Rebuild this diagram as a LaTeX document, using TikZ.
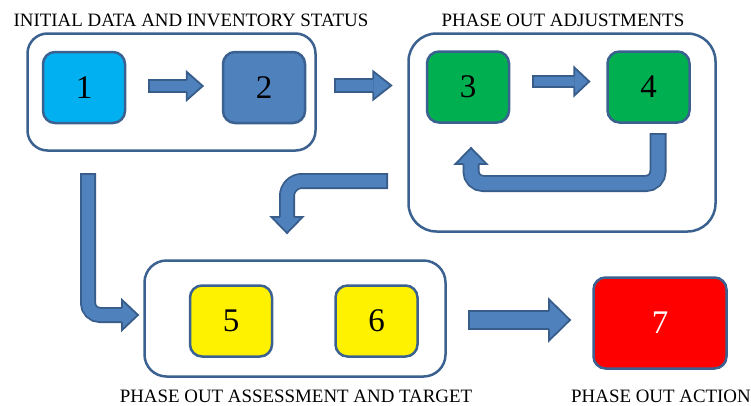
\documentclass[tikz,border=0pt]{standalone}
\usepackage{fontspec}
\setmainfont{Liberation Serif}
\usetikzlibrary{calc}

\definecolor{boxline}{HTML}{3A6190}
\definecolor{arrowfill}{HTML}{4F81BD}
\definecolor{arrowline}{HTML}{385D8A}
\definecolor{cyanbox}{HTML}{00B0F0}
\definecolor{bluebox}{HTML}{4F81BD}
\definecolor{greenbox}{HTML}{00B050}

% arrow head: half shaft, half head, length
\tikzset{
  pics/ahead/.style n args={3}{code={
    \filldraw[arrowbody] (0,#1) -- (0,#2) -- (#3,0) -- (0,-#2) -- (0,-#1);
  }}
}

\begin{document}
\begin{tikzpicture}[x=1pt,y=-1pt,
  numbox/.style={draw=boxline, line width=2.5pt, rounded corners=12pt,
    minimum width=82pt, minimum height=71pt, inner sep=0pt,
    font=\fontsize{33}{33}\selectfont},
  groupbox/.style={draw=boxline, line width=2.5pt, inner sep=0pt},
  shaft/.style={draw=arrowline, line width=1.8pt, double=arrowfill, double distance=#1pt,
    line cap=rect, shorten <=#1pt/2+1.8pt, shorten >=#1pt/2},
  arrowbody/.style={fill=arrowfill, draw=arrowline, line width=1.8pt, line join=miter},
  title/.style={font=\fontsize{18.9}{20}\selectfont, inner sep=0pt}]

\fill[white] (0,0) rectangle (751,405);
\useasboundingbox (0,0) rectangle (751,405);

% Groups
\node[groupbox, rounded corners=20pt, minimum width=288pt, minimum height=117pt] (g1) at (171.5,92) {};
\node[groupbox, rounded corners=28pt, minimum width=307pt, minimum height=198pt] (g2) at (562,132.5) {};
\node[groupbox, rounded corners=22pt, minimum width=301pt, minimum height=116pt] (g3) at (295,318.5) {};

% Titles
\node[title] (t1) at (191,20) {INITIAL DATA AND INVENTORY STATUS};
\node[title] (t2) at (563,20) {PHASE OUT ADJUSTMENTS};
\node[title] (t3) at (296,396) {PHASE OUT ASSESSMENT AND TARGET};
\node[title] (t4) at (661,396) {PHASE OUT ACTION};

% Steps
\node[numbox, fill=cyanbox] (b1) at (84,87.5) {1};
\node[numbox, fill=bluebox] (b2) at (264,87.5) {2};
\node[numbox, fill=greenbox] (b3) at (468,87) {3};
\node[numbox, fill=greenbox] (b4) at (648.5,87) {4};
\node[numbox, fill=yellow] (b5) at (231,321) {5};
\node[numbox, fill=yellow] (b6) at (376.5,321) {6};
\node[numbox, fill=red, text=white, minimum width=133pt, minimum height=91pt] (b7) at (660,323) {7};

% Define coordinates
\coordinate (a12s) at ($(b1.east)+(22,-1.5)$);
\coordinate (a12e) at ($(b2.west)+(-35,-1.5)$);
\coordinate (a23s) at ($(b2.east)+(28,-2)$);
\coordinate (a23e) at ($(g2.west)+(-34,-47)$);
\coordinate (a34s) at ($(b3.east)+(22,-5.5)$);
\coordinate (a34e) at ($(b4.west)+(-32,-5.5)$);
\coordinate (a44s) at ($(b4.south)+(9.5,9.25)$);
\coordinate (a44m) at ($(b4.south)+(9.5,59.75)$);
\coordinate (a44e) at ($(b3.south)+(3,40.25)$);
\coordinate (a13s) at ($(g1.south west)+(61.75,21.25)$);
\coordinate (a13e) at ($(g3.west)+(-21.25,-3.5)$);
\coordinate (a25s) at ($(g2.west)+(-19.25,48.5)$);
\coordinate (a25e) at ($(g3.north)+(-8,-42.25)$);
\coordinate (a67s) at ($(g3.east)+(21.25,1.5)$);
\coordinate (a67e) at ($(b7.west)+(-43.25,-3)$);

% Straight arrows
\draw[shaft=10.4] (a12s) -- (a12e);
\pic at (a12e) {ahead={6.1}{14.1}{16}};
\draw[shaft=11.4] (a23s) -- (a23e);
\pic at (a23e) {ahead={6.6}{14.1}{18}};
\draw[shaft=9.4] (a34s) -- (a34e);
\pic at (a34e) {ahead={5.6}{14.1}{15}};
\draw[shaft=16.4] (a67s) -- (a67e);
\pic at (a67e) {ahead={9.1}{20.6}{21}};

% Bent arrows
\draw[shaft=13.4, rounded corners=12pt] (a44s) -- (a44m) -| (a44e);
\pic[rotate=90] at (a44e) {ahead={7.6}{15.6}{16}};
\draw[shaft=12.4, rounded corners=12pt] (a13s) |- (a13e);
\pic at (a13e) {ahead={7.1}{15.1}{16}};
\draw[shaft=12.4, rounded corners=15pt] (a25s) -| (a25e);
\pic[rotate=-90] at (a25e) {ahead={7.1}{15.6}{16}};

\end{tikzpicture}
\end{document}
